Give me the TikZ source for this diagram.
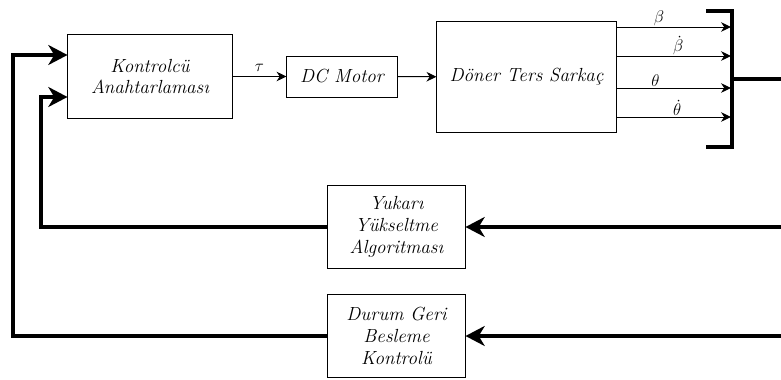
\documentclass[tikz,border=0pt]{standalone}
\usepackage{fontspec}
\usepackage{amsmath}
\usetikzlibrary{arrows.meta,positioning}

\begin{document}
\begin{tikzpicture}[x=0.025cm,y=-0.025cm,
blok/.style={draw,line width=0.7pt,align=center,inner sep=2pt,font=\fontsize{13.5}{15.5}\selectfont\itshape},
ince/.style={line width=0.7pt,-{Stealth[length=0.25cm,width=0.24cm]}},
kalin/.style={line width=2.2pt},
kalinok/.style={line width=2.2pt,-{Stealth[length=0.48cm,width=0.5cm,inset=0.15cm]}}]
\useasboundingbox (0,0) rectangle (781,380);
\node[blok,minimum width=4.1cm,minimum height=2.075cm](kontrol) at (150,76.5){Kontrolcü\\Anahtarlaması};
\node[blok,minimum width=2.75cm,minimum height=1.025cm](motor) at (342,76.5){DC Motor};
\node[blok,minimum width=4.475cm,minimum height=2.75cm](sarkac) at (526.5,77){Döner Ters Sarkaç};
\node[blok,minimum width=3.425cm,minimum height=2.05cm](yukari) at (396.5,227){Yukarı\\Yükseltme\\Algoritması};
\node[blok,minimum width=3.425cm,minimum height=2.05cm](durum) at (396.5,336){Durum Geri\\Besleme\\Kontrolü};
\draw[ince](kontrol)--node[above,font=\large](tau){$\tau$}(motor);
\draw[ince](motor)--(sarkac);
%% mux
\coordinate (mux) at (732,79);
\coordinate (cikis) at (781,79);
\draw[kalin](706,11)--(732,11)--(732,147)--(706,147);
\draw[kalin](mux)--(cikis);
\foreach \yy/\lab/\p [count=\i] in {27/\beta/.37,56/\dot{\beta}/.54,88/\theta/.34,117/\dot{\theta}/.53}{
\coordinate (m\i) at (731,\yy);
\draw[ince](sarkac.east |- m\i)--node[above,pos=\p,inner sep=0.5pt,font=\large](d\i){$\lab$}(m\i);
}
%% geri besleme
\coordinate (g1) at (781,227);
\coordinate (g2) at (781,336);
\draw[kalinok](g1)--(yukari);
\draw[kalinok](g2)--(durum);
\draw[kalinok](yukari.west)-|(41,97)--(kontrol.west |- 0,97);
\draw[kalinok](durum.west)-|(13,55)--(kontrol.west |- 0,55);
\end{tikzpicture}
\end{document}
